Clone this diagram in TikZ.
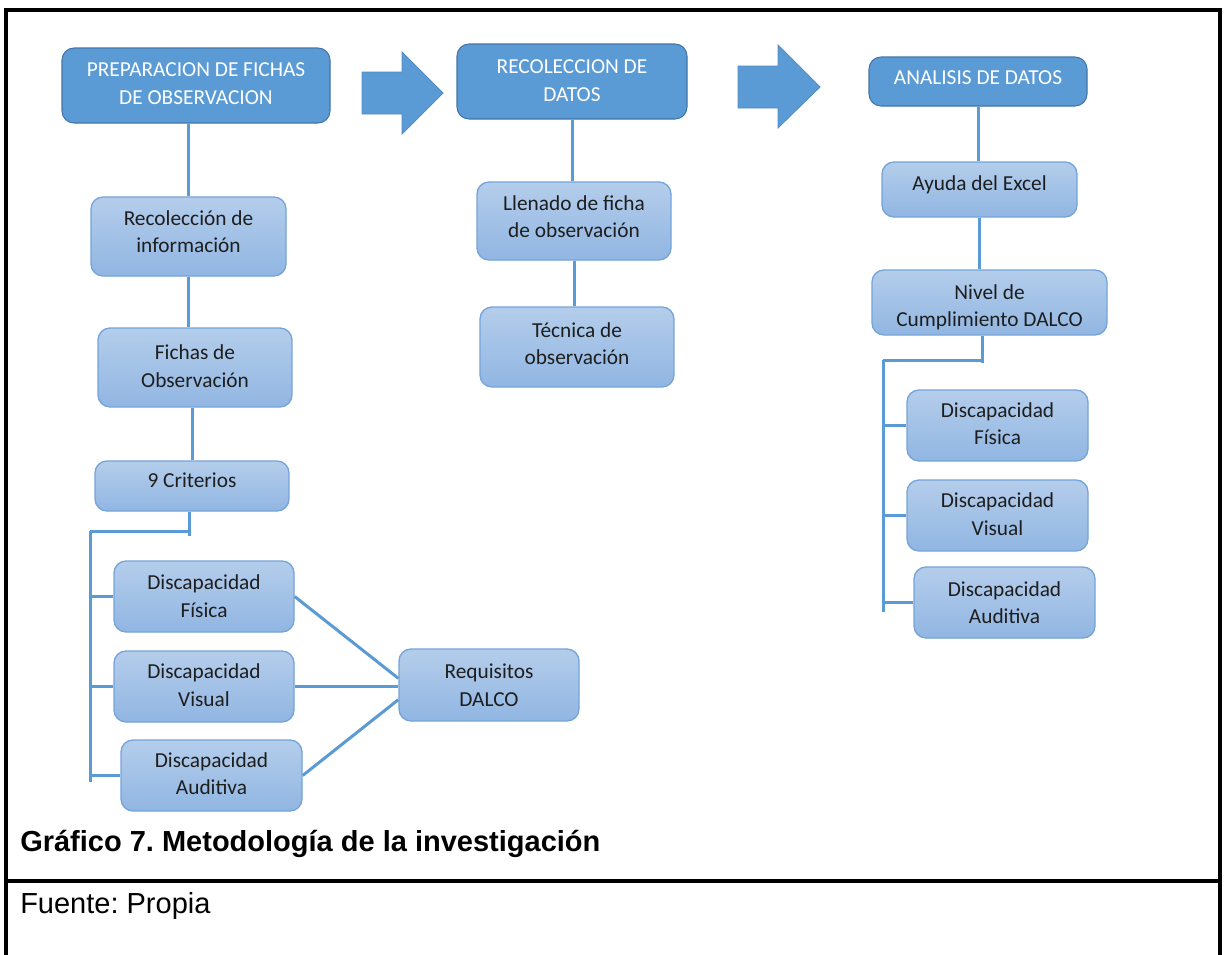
\documentclass[tikz,border=0pt]{standalone}
\usepackage{fontspec}
\setmainfont{Carlito}
\newfontfamily\arialfont{Liberation Sans}
\usetikzlibrary{fit}
\definecolor{hdrfill}{RGB}{91,155,213}
\definecolor{hdrborder}{RGB}{66,118,168}
\definecolor{ltop}{RGB}{180,205,235}
\definecolor{lbot}{RGB}{145,182,226}
\definecolor{lborder}{RGB}{116,164,218}
\definecolor{ltext}{RGB}{30,30,30}
\definecolor{lineblue}{RGB}{91,155,213}
\newcommand\tx[2]{\raisebox{-#1}[\height][\depth]{\begin{tabular}{@{}c@{}}#2\end{tabular}}}
\tikzset{
  hdr/.style={draw=hdrborder, fill=hdrfill, rounded corners=9pt, text=white,
    font=\fontsize{16}{20.3}\selectfont, align=center, inner sep=0pt, line width=0.8pt},
  lbox/.style={draw=lborder, top color=ltop, bottom color=lbot, rounded corners=9pt,
    text=ltext, font=\fontsize{16}{20.3}\selectfont, align=center, inner sep=0pt, line width=1pt},
  conn/.style={draw=lineblue, line width=2.25pt},
  blockarrow/.style={fill=hdrfill, draw=hdrfill!90!black, line width=0.6pt},
  frameline/.style={draw=black, line width=2.3pt}
}
\begin{document}
\frenchspacing
\begin{tikzpicture}[x=0.75pt,y=-0.75pt]
\useasboundingbox (0,0) rectangle (1225,954);
\fill[white] (0,0) rectangle (1225,954);
% frame
\draw[frameline] (6,970) -- (6,10) -- (1220,10) -- (1220,970);
\draw[frameline] (6,881) -- (1220,881);

% headers
\node[hdr, fit={(62,48) (330,123)}] (prep) {\tx{12pt}{PREPARACION DE FICHAS\\DE OBSERVACION}};
\node[hdr, fit={(457,44) (687,119)}] (recd) {\tx{12.75pt}{RECOLECCION DE\\DATOS}};
\node[hdr, fit={(869,57) (1087,106)}] (anal) {\tx{5.25pt}{ANALISIS DE DATOS}};

% block arrows
\filldraw[blockarrow] (362,72) -- (402,72) -- (402,52) -- (443,93) -- (402,134) -- (402,114) -- (362,114) -- cycle;
\filldraw[blockarrow] (738,66) -- (778,66) -- (778,45) -- (820,87) -- (778,128) -- (778,108) -- (738,108) -- cycle;

% left column
\node[lbox, fit={(91,197) (286,276)}] (rec) {\tx{10.15pt}{Recolección de\\información}};
\node[lbox, fit={(98,328) (292,407)}] (fich) {\tx{12.75pt}{Fichas de\\Observación}};
\node[lbox, fit={(95,461) (289,511)}] (crit) {\tx{4.5pt}{9 Criterios}};
\node[lbox, fit={(114,561) (294,632)}] (fis) {\tx{13.5pt}{Discapacidad\\Física}};
\node[lbox, fit={(114,651) (294,722)}] (vis) {\tx{12.75pt}{Discapacidad\\Visual}};
\node[lbox, fit={(121,740) (302,811)}] (aud) {\tx{12.4pt}{Discapacidad\\Auditiva}};
\node[lbox, fit={(399,649) (579,721)}] (req) {\tx{13.85pt}{Requisitos\\DALCO}};

% middle column
\node[lbox, fit={(477,182) (671,260)}] (llen) {\tx{10.5pt}{Llenado de ficha\\de observación}};
\node[lbox, fit={(480,307) (674,387)}] (tec) {\tx{11.25pt}{Técnica de\\observación}};

% right column
\node[lbox, fit={(882,162) (1077,217)}] (ayu) {\tx{3.75pt}{Ayuda del Excel}};
\node[lbox, fit={(872,270) (1107,335)}] (niv) {\tx{16.1pt}{Nivel de\\Cumplimiento DALCO}};
\node[lbox, fit={(907,390) (1088,461)}] (rfis) {\tx{12.35pt}{Discapacidad\\Física}};
\node[lbox, fit={(907,480) (1088,551)}] (rvis) {\tx{12.75pt}{Discapacidad\\Visual}};
\node[lbox, fit={(914,567) (1095,638)}] (raud) {\tx{13.85pt}{Discapacidad\\Auditiva}};

% connectors left
\draw[conn] (rec.north) -- (rec.north |- prep.south);
\draw[conn] (rec.south) -- (rec.south |- fich.north);
\draw[conn] (crit.north) -- (crit.north |- fich.south);
\coordinate (lb) at (90,531);
\coordinate (lbe) at (90,782);
\coordinate (lbc) at (189,536);
\draw[conn] (lbc |- crit.south) -- (lbc);
\draw[conn] (lb) -- (lb -| lbc);
\draw[conn] (lb) -- (lbe);
\draw[conn] (lb |- fis.west) -- (fis.west);
\draw[conn] (lb |- vis.west) -- (vis.west);
\draw[conn] (lb |- aud.west) -- (aud.west);
\draw[conn] (fis.east) -- ([yshift=5pt]req.west);
\draw[conn] (vis.east) -- (vis.east -| req.west);
\draw[conn] (aud.east) -- ([yshift=-11pt]req.west);

% connectors middle
\draw[conn] (recd.south) -- (recd.south |- llen.north);
\draw[conn] (llen.south) -- (llen.south |- tec.north);

% connectors right
\draw[conn] (anal.south) -- (anal.south |- ayu.north);
\draw[conn] (ayu.south) -- (ayu.south |- niv.north);
\coordinate (rb) at (883,360);
\coordinate (rbe) at (883,612);
\coordinate (rt) at (982,363);
\draw[conn] (rt |- niv.south) -- (rt);
\draw[conn] (rb) -- (rb -| rt);
\draw[conn] (rb) -- (rbe);
\draw[conn] (rb |- rfis.west) -- (rfis.west);
\draw[conn] (rb |- rvis.west) -- (rvis.west);
\draw[conn] (rb |- raud.west) -- (raud.west);

% caption
\node[anchor=base west, inner sep=0pt, font=\arialfont\bfseries\fontsize{21.75}{26}\selectfont] (cap) at (20,851) {Gráfico 7. Metodología de la investigación};
\node[anchor=base west, inner sep=0pt, font=\arialfont\fontsize{21.75}{26}\selectfont] (src) at (20,913) {Fuente: Propia};
\end{tikzpicture}
\end{document}
